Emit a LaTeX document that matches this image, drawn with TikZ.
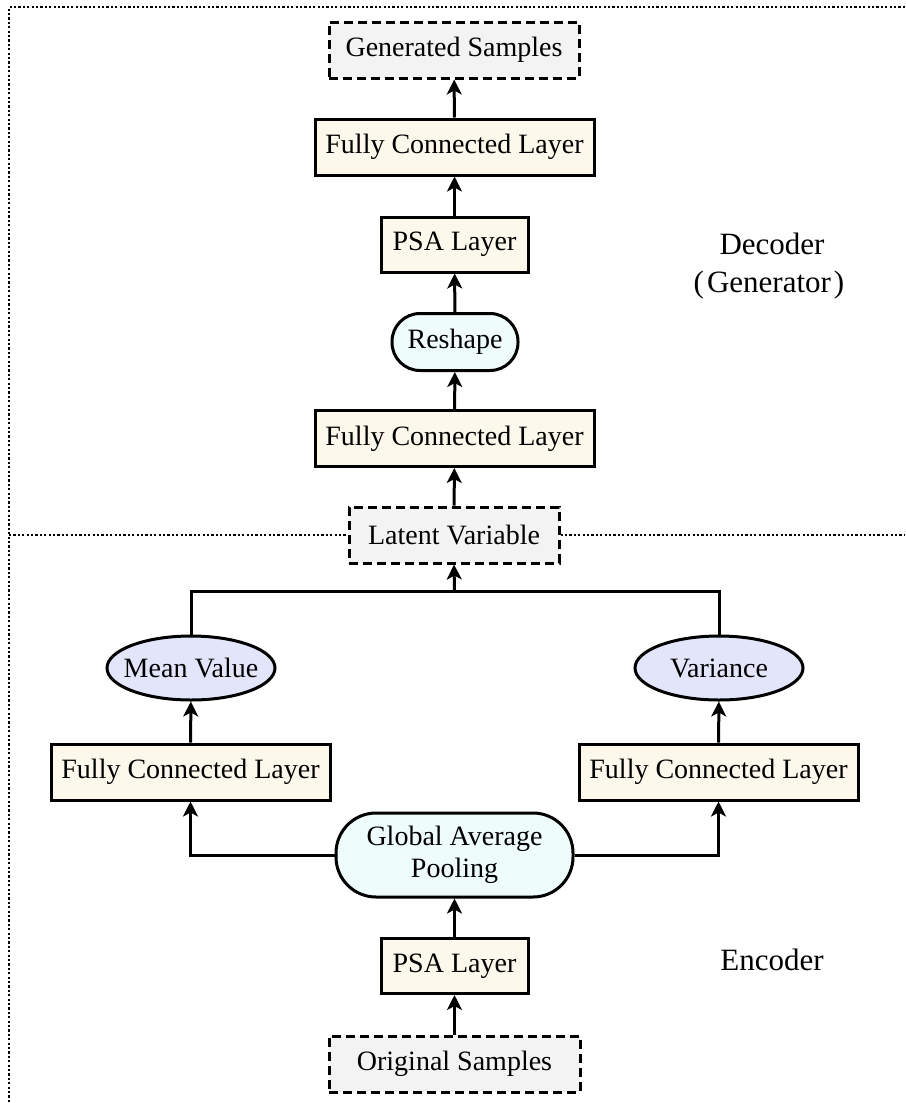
\documentclass[tikz,border=0pt]{standalone}
\usepackage{fontspec}
\setmainfont{Liberation Serif}
\usetikzlibrary{arrows.meta,shapes.geometric}
\definecolor{fcfill}{HTML}{FDF8EC}
\definecolor{cyfill}{HTML}{EEFCFB}
\definecolor{lvfill}{HTML}{E3E6FB}
\definecolor{gyfill}{HTML}{F3F3F3}
\tikzset{
  base/.style={draw=black, line width=3pt, inner sep=0pt, align=center, font=\fontsize{28}{32}\selectfont},
  fcbox/.style={base, fill=fcfill, minimum width=279pt, minimum height=56pt},
  psabox/.style={base, fill=fcfill, minimum width=147pt, minimum height=55pt},
  iobox/.style={base, fill=gyfill, dash pattern=on 9pt off 5pt, minimum height=56pt},
  pill/.style={base, fill=cyfill},
  oval/.style={base, ellipse, fill=lvfill, inner xsep=-11pt, minimum width=168pt, minimum height=64pt},
  conn/.style={line width=3pt, draw=black},
  arr/.style={conn, -{Stealth[length=15pt,width=15pt,inset=4pt]}},
  sep/.style={line width=2.5pt, dash pattern=on 2.2pt off 2.2pt},
  lbl/.style={font=\fontsize{31}{38}\selectfont, align=center}
}
\begin{document}
\begin{tikzpicture}[x=1pt,y=-1pt]
\useasboundingbox (0,0) rectangle (905,1103);
% nodes
\node[iobox, minimum width=250pt] (gen) at (454,50) {Generated Samples};
\node[fcbox] (fc1) at (454.5,147) {Fully Connected Layer};
\node[psabox] (psa1) at (454.5,244.5) {PSA Layer};
\node[pill, minimum width=126pt, minimum height=57pt, rounded corners=28pt] (resh) at (455,342) {Reshape};
\node[fcbox] (fc2) at (454.5,438.5) {Fully Connected Layer};
\node[iobox, minimum width=210pt] (lat) at (454,535) {Latent Variable};
\node[oval] (mean) at (191,668) {Mean Value};
\node[oval] (var) at (719,668) {Variance};
\node[fcbox] (fcl) at (190.5,772) {Fully Connected Layer};
\node[fcbox] (fcr) at (718.5,772) {Fully Connected Layer};
\node[pill, minimum width=237pt, minimum height=84pt, rounded corners=40pt] (gap) at (454.5,855) {Global Average\\Pooling};
\node[psabox] (psa2) at (454.5,966) {PSA Layer};
\node[iobox, minimum width=251pt] (orig) at (454.5,1064) {Original Samples};
\node[lbl] (dec) at (772,266) {Decoder\\\kern-6pt(\kern3pt Generator\kern3pt)};
\node[lbl] (enc) at (772,960) {Encoder};
% separators
\coordinate (tl) at (9,7);
\coordinate (tr) at (905,7);
\coordinate (bl) at (9,1103);
\coordinate (ml) at (9,535);
\coordinate (mr) at (905,535);
\draw[sep] (tr) -- (tl) -- (bl);
\draw[sep] (ml) -- (lat.west);
\draw[sep] (lat.east) -- (mr);
% connectors
\draw[arr] (fc1) -- (gen);
\draw[arr] (psa1) -- (fc1);
\draw[arr] (resh) -- (psa1);
\draw[arr] (fc2) -- (resh);
\draw[arr] (lat) -- (fc2);
\coordinate (j) at (454.5,591);
\draw[conn] (mean.north) |- (j) -| (var.north);
\draw[arr] (j) -- (lat.south);
\draw[arr] (fcl) -- (mean);
\draw[arr] (fcr) -- (var);
\draw[arr] (gap.west) -| (fcl.south);
\draw[arr] (gap.east) -| (fcr.south);
\draw[arr] (psa2) -- (gap);
\draw[arr] (orig) -- (psa2);
\end{tikzpicture}
\end{document}
